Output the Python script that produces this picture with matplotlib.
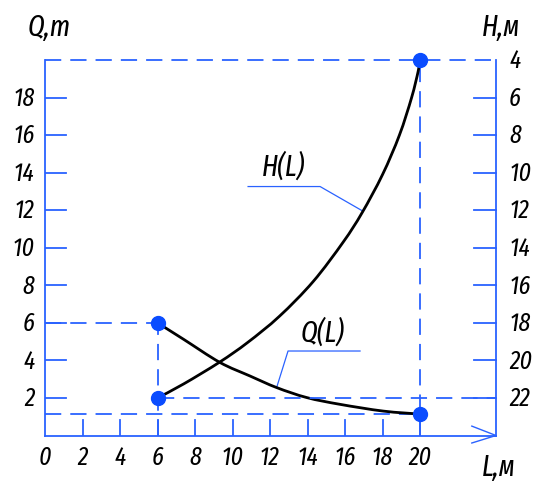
import matplotlib
matplotlib.use("Agg")
import matplotlib.pyplot as plt
from matplotlib.path import Path
from matplotlib.patches import PathPatch

# ---- data ----
L_H = [6, 7.4, 9.3, 10.8, 12.5, 14.3, 15.9, 16.9, 18.0, 18.9, 19.55, 19.9, 20]
Q_on_H = [2, 2.75, 3.9, 4.95, 6.35, 8.2, 10.3, 11.85, 13.9, 16.0, 18.0, 19.4, 20]
H_vals = [24 - q for q in Q_on_H]
L_Q = [6, 7.38, 9.33, 10.93, 12.36, 13.96, 15.73, 18.04, 20]
Q_vals = [6, 5.13, 3.89, 3.17, 2.55, 2.02, 1.66, 1.30, 1.14]
x_ticks = [0, 2, 4, 6, 8, 10, 12, 14, 16, 18, 20]
q_ticks = [2, 4, 6, 8, 10, 12, 14, 16, 18]
h_ticks = [4, 6, 8, 10, 12, 14, 16, 18, 20, 22]
points_Q = [(6, 6), (20, 1.14)]
points_H = [(6, 22), (20, 4)]

BLUE = '#2a62ff'
DOT = '#0a4cff'
FONT = dict(family=['Fira Sans Extra Condensed', 'Fira Sans Condensed', 'Roboto', 'DejaVu Sans'], style='italic')
FS = 18.5
FT = 21


def smooth_path(xs, ys):
    """Catmull-Rom curve through the given points, as a Bezier path."""
    verts = [(xs[0], ys[0])]
    codes = [Path.MOVETO]
    n = len(xs)
    for i in range(n - 1):
        p0 = (xs[max(i - 1, 0)], ys[max(i - 1, 0)])
        p1 = (xs[i], ys[i])
        p2 = (xs[i + 1], ys[i + 1])
        p3 = (xs[min(i + 2, n - 1)], ys[min(i + 2, n - 1)])
        c1 = (p1[0] + (p2[0] - p0[0]) / 6, p1[1] + (p2[1] - p0[1]) / 6)
        c2 = (p2[0] - (p3[0] - p1[0]) / 6, p2[1] - (p3[1] - p1[1]) / 6)
        verts += [c1, c2, p2]
        codes += [Path.CURVE4] * 3
    return Path(verts, codes)


W, H = 537, 489
fig = plt.figure(figsize=(W / 100, H / 100), dpi=100)
x0, x1, y0, y1 = 45, 496, 436.5, 61
ax = fig.add_axes([x0 / W, 1 - y0 / H, (x1 - x0) / W, (y0 - y1) / H])
XMAX = 24.05
ax.set_xlim(0, XMAX)
ax.set_ylim(0, 20)
ax2 = ax.twinx()
ax2.set_ylim(24, 4)

for a in (ax, ax2):
    for s in a.spines.values():
        s.set_visible(False)
    a.set_xticks([])
    a.set_yticks([])
    a.patch.set_visible(False)

lw = 1.3
dash = (0, (9, 5))
# axes lines
ax.plot([0, 0], [0, 20], color=BLUE, lw=lw, clip_on=False)
ax.plot([0, XMAX], [0, 0], color=BLUE, lw=lw, clip_on=False)
ax.plot([XMAX, XMAX], [0, 20], color=BLUE, lw=lw, clip_on=False)
# arrowhead
ax.plot([22.76, XMAX, 22.76], [0.5, 0, -0.4], color=BLUE, lw=1.0, clip_on=False)
# dashed lines
ax.plot([0, XMAX], [20, 20], color=BLUE, lw=lw, ls=dash, clip_on=False)
ax.plot([20, 20], [0, 20], color=BLUE, lw=lw, ls=dash)
ax.plot([0, 6], [6, 6], color=BLUE, lw=lw, ls=dash)
ax.plot([6, 6], [0, 6], color=BLUE, lw=lw, ls=dash)
ax.plot([0, 20], [1.14, 1.14], color=BLUE, lw=lw, ls=dash)
ax2.plot([6, XMAX], [22, 22], color=BLUE, lw=lw, ls=dash, clip_on=False)

# ticks (drawn in data units)
tl_left = 21 / 18.75
for q in q_ticks:
    ax.plot([0, tl_left], [q, q], color=BLUE, lw=lw)
    ax.text(-0.55, q, str(q), ha='right', va='center', fontsize=FS, **FONT)
for x in x_ticks:
    if x > 0:
        ax.plot([x, x], [0, 15 / 18.7], color=BLUE, lw=lw)
    ax.text(x, -1.12, str(x), ha='center', va='center', fontsize=FS, **FONT)
for h in h_ticks:
    if h > 4:
        ax2.plot([XMAX - 22 / 18.75, XMAX], [h, h], color=BLUE, lw=lw, clip_on=False)
    ax2.text(24.75, h, str(h), ha='left', va='center', fontsize=FS, **FONT)

# axis titles
ax.text(-0.95, 21.75, 'Q,т', ha='left', va='center', fontsize=FT, **FONT)
ax.text(23.3, 21.75, 'H,м', ha='left', va='center', fontsize=FT, **FONT)
ax.text(23.3, -1.65, 'L,м', ha='left', va='center', fontsize=FT, **FONT)

# curves
ax2.add_patch(PathPatch(smooth_path(L_H, H_vals), fill=False, edgecolor='black', lw=2.0, zorder=5))
ax.add_patch(PathPatch(smooth_path(L_Q, Q_vals), fill=False, edgecolor='black', lw=2.0, zorder=5))

# points
for (lx, q) in points_Q:
    ax.plot(lx, q, 'o', color=DOT, ms=10, zorder=6, clip_on=False)
for (lx, h) in points_H:
    ax2.plot(lx, h, 'o', color=DOT, ms=10, zorder=6, clip_on=False)

# labels with leaders
ax.plot([10.83, 14.67, 16.9], [13.26, 13.26, 11.98], color=BLUE, lw=0.9)
ax.text(11.55, 13.55, 'H(L)', ha='left', va='bottom', fontsize=FT, **FONT)
ax.plot([16.8, 12.96, 12.36], [4.5, 4.5, 2.58], color=BLUE, lw=0.9)
ax.text(13.65, 4.75, 'Q(L)', ha='left', va='bottom', fontsize=FT, **FONT)

fig.savefig('out.png', dpi=100)
